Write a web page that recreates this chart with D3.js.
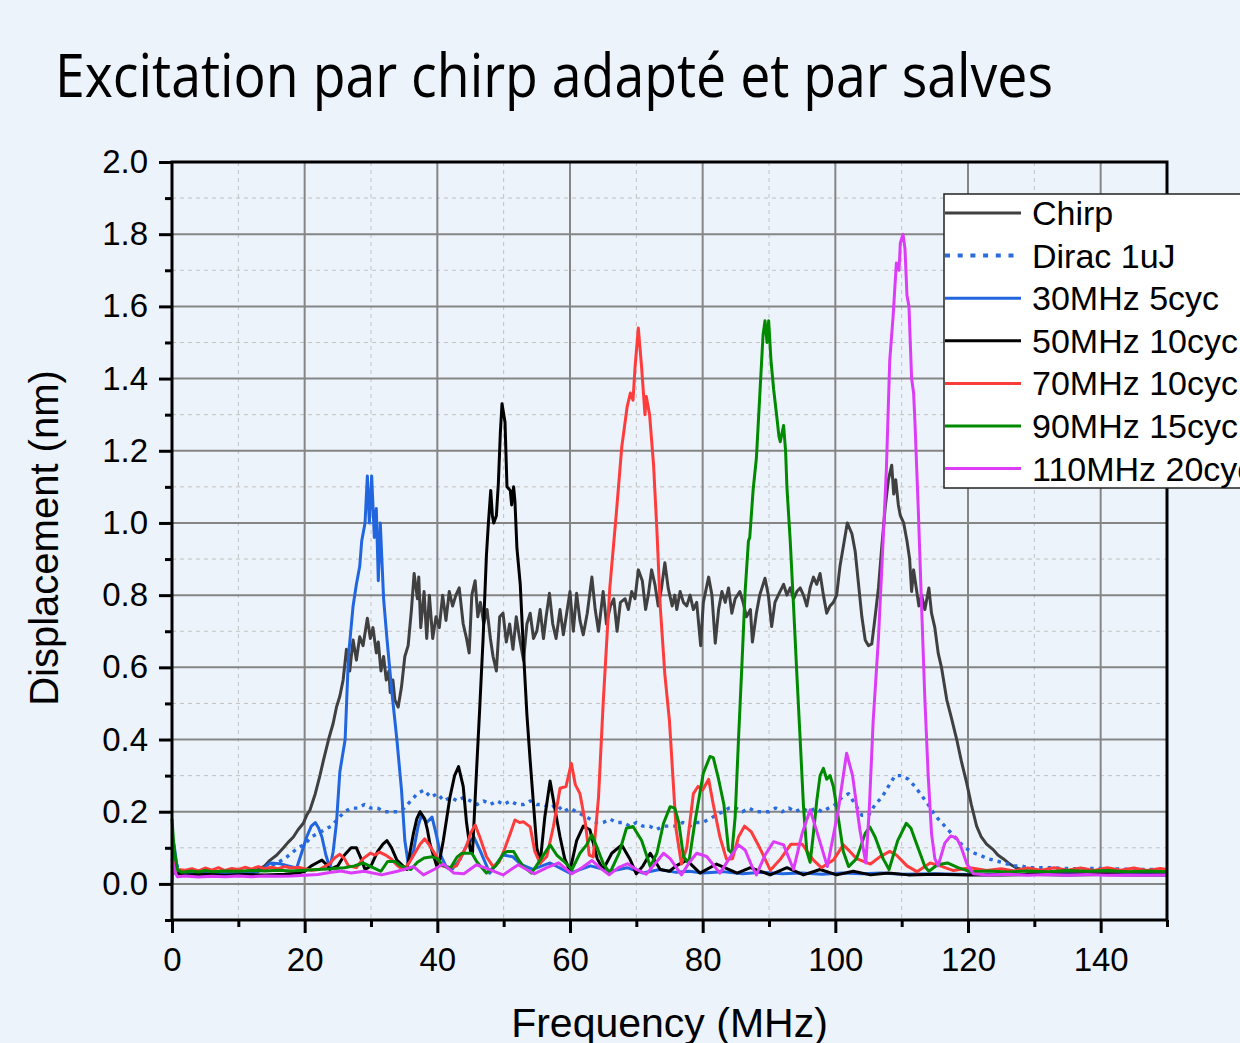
<!DOCTYPE html>
<html>
<head>
<meta charset="utf-8">
<script src="https://cdnjs.cloudflare.com/ajax/libs/d3/7.8.5/d3.min.js"></script>
<style>
  html, body { margin: 0; padding: 0; background: #edf3fb; }
  svg { display: block; }
  text { font-family: "Liberation Sans", Arial, sans-serif; }
</style>
</head>
<body>
<svg id="chart" width="1240" height="1043"></svg>
<script>
// Values: [frequency MHz, displacement nm]
var chirp = [[0,0.05],[0.5,0.03],[3,0.032],[6,0.03],[9,0.033],[12,0.035],[13,0.04],[14,0.05],[14.8,0.066],[15.8,0.08],
  [16.8,0.10],[17.5,0.115],[18.3,0.13],[19,0.15],[19.8,0.168],[20.3,0.19],[20.8,0.205],[21.6,0.25],[22.3,0.30],[22.8,0.34],
  [23.6,0.40],[24.3,0.445],[24.8,0.49],[25.3,0.52],[25.8,0.565],[26.3,0.65],[26.8,0.59],[27.3,0.676],[27.8,0.62],[28.3,0.685],
  [28.8,0.66],[29.45,0.736],[29.9,0.68],[30.3,0.71],[30.8,0.64],[31.1,0.67],[31.5,0.59],[31.9,0.63],[32.3,0.565],[32.7,0.59],
  [32.9,0.53],[33.3,0.565],[33.6,0.51],[34.1,0.49],[34.6,0.546],[35.1,0.63],[35.6,0.66],[36.1,0.76],[36.5,0.86],[37,0.79],
  [37.2,0.85],[37.5,0.71],[38,0.81],[38.4,0.68],[38.8,0.80],[39.3,0.68],[39.8,0.74],[40.3,0.71],[40.8,0.80],[41.3,0.73],
  [41.8,0.81],[42.3,0.77],[42.8,0.80],[43.3,0.82],[43.9,0.72],[44.4,0.68],[44.8,0.64],[45.2,0.80],[45.7,0.84],[46.1,0.74],
  [46.5,0.78],[47,0.72],[47.5,0.76],[48,0.68],[48.4,0.63],[48.9,0.59],[49.4,0.74],[49.9,0.75],[50.4,0.67],[50.9,0.72],
  [51.4,0.65],[51.9,0.74],[52.4,0.68],[53,0.62],[53.5,0.72],[54,0.75],[54.5,0.68],[55,0.70],[55.5,0.76],[56,0.68],
  [56.4,0.74],[56.9,0.805],[57.4,0.72],[57.9,0.68],[58.5,0.76],[59,0.69],[59.5,0.75],[60,0.81],[60.5,0.70],[61,0.805],
  [61.5,0.73],[62,0.69],[62.6,0.75],[63.3,0.85],[63.8,0.76],[64.3,0.70],[65,0.81],[65.5,0.72],[66.1,0.77],[66.6,0.79],
  [67.1,0.70],[67.6,0.78],[68.3,0.79],[68.8,0.76],[69.3,0.81],[69.8,0.79],[70.3,0.87],[70.9,0.84],[71.4,0.76],[71.8,0.80],
  [72.3,0.87],[72.8,0.83],[73.3,0.77],[73.8,0.82],[74.3,0.89],[74.8,0.82],[75.4,0.77],[75.8,0.80],[76.1,0.76],[76.6,0.81],
  [77.1,0.78],[77.6,0.77],[78.1,0.80],[78.6,0.76],[79.1,0.78],[79.7,0.66],[80.1,0.78],[80.9,0.85],[81.4,0.80],[81.9,0.667],
  [82.4,0.76],[82.9,0.81],[83.4,0.78],[83.9,0.82],[84.4,0.75],[84.9,0.79],[85.6,0.81],[86.1,0.78],[86.6,0.74],[87.2,0.76],
  [87.5,0.67],[88.1,0.75],[88.6,0.80],[89.4,0.847],[89.9,0.80],[90.4,0.713],[90.9,0.78],[91.4,0.80],[92.2,0.83],[92.7,0.80],
  [93.2,0.82],[93.7,0.79],[94.2,0.81],[94.7,0.82],[95.2,0.80],[95.7,0.77],[96.2,0.82],[96.7,0.85],[97.2,0.83],[97.7,0.86],
  [98.2,0.80],[98.7,0.75],[99.2,0.77],[99.7,0.78],[100.2,0.80],[100.7,0.88],[101.2,0.934],[101.8,1.0],[102.5,0.97],[103,0.92],
  [103.5,0.83],[104,0.74],[104.5,0.676],[105,0.66],[105.5,0.665],[106,0.74],[106.5,0.82],[107,0.934],[107.5,1.04],[108,1.12],
  [108.5,1.16],[108.8,1.08],[109.1,1.12],[109.5,1.05],[109.8,1.02],[110.3,1.0],[110.8,0.95],[111.2,0.9],[111.5,0.81],[111.8,0.87],
  [112.2,0.82],[112.6,0.77],[113,0.80],[113.5,0.76],[114.1,0.82],[114.5,0.75],[115,0.71],[115.5,0.64],[116,0.6],[116.8,0.51],
  [117.5,0.46],[118.3,0.40],[119,0.34],[119.8,0.28],[120.5,0.22],[121.3,0.16],[122,0.13],[122.8,0.11],[123.8,0.095],[124.5,0.08],
  [125.3,0.07],[126.3,0.055],[127.3,0.044],[129,0.035],[132,0.032],[136,0.03],[140,0.031],[145,0.03],[150,0.03]];

var dirac = [[0,0.10],[1,0.035],[2,0.03],[5,0.031],[8,0.029],[12,0.031],[13,0.035],[14,0.04],[15,0.05],[16,0.06],[17,0.07],
  [18,0.085],[19,0.10],[20,0.11],[21,0.13],[22,0.14],[23,0.15],[24,0.16],[25,0.18],[26,0.20],[27,0.21],[28,0.21],[29,0.22],
  [30,0.21],[31,0.21],[32,0.20],[33,0.20],[34,0.20],[35,0.21],[36,0.23],[37,0.25],[38,0.26],[39,0.24],[40,0.25],[41,0.23],
  [42,0.24],[43,0.23],[44,0.24],[45,0.23],[46,0.22],[47,0.23],[48,0.22],[49,0.23],[50,0.22],[51,0.23],[52,0.22],[53,0.22],
  [54,0.23],[55,0.22],[56,0.22],[57,0.21],[58,0.22],[59,0.20],[60,0.21],[61,0.20],[62,0.19],[63,0.18],[64,0.17],[65,0.17],
  [66,0.18],[67,0.17],[68,0.17],[69,0.16],[70,0.17],[71,0.16],[72,0.16],[73,0.15],[74,0.16],[75,0.16],[76,0.16],[77,0.17],
  [78,0.16],[79,0.17],[80,0.17],[81,0.18],[82,0.19],[83,0.20],[84,0.21],[85,0.21],[86,0.20],[87,0.21],[88,0.20],[89,0.20],
  [90,0.20],[91,0.21],[92,0.20],[93,0.21],[94,0.20],[95,0.21],[96,0.20],[97,0.21],[98,0.20],[99,0.21],[100,0.22],[101,0.24],
  [102,0.25],[103,0.22],[104,0.19],[105,0.19],[106,0.22],[107,0.24],[108,0.27],[109,0.30],[110,0.30],[111,0.29],[112,0.27],
  [113,0.245],[114,0.22],[115,0.19],[116,0.17],[117,0.15],[118,0.13],[119,0.11],[120,0.095],[121,0.085],[122,0.078],[123,0.07],
  [124,0.065],[125,0.06],[126,0.055],[127,0.05],[128,0.05],[129,0.045],[132,0.045],[136,0.042],[140,0.043],[145,0.04],[150,0.04]];

var burst30 = [[0,0.0],[0.3,0.11],[0.8,0.04],[1.5,0.03],[4,0.028],[7,0.03],[10,0.029],[12,0.03],[13,0.035],[14,0.045],[14.8,0.058],
  [16.3,0.056],[17.5,0.05],[18.8,0.044],[19.6,0.09],[20.3,0.13],[21,0.16],[21.6,0.17],[22.1,0.155],[22.6,0.13],[23.2,0.08],
  [23.8,0.044],[24.3,0.09],[24.8,0.17],[25.3,0.31],[26.1,0.4],[26.6,0.63],[27.3,0.77],[27.8,0.83],[28.3,0.88],[28.6,0.95],
  [29.1,1.0],[29.45,1.13],[29.75,1.0],[30.1,1.13],[30.5,0.96],[30.8,1.04],[31.1,0.84],[31.4,1.0],[31.9,0.79],[32.4,0.68],
  [33.1,0.54],[33.9,0.40],[34.6,0.26],[35.1,0.12],[35.6,0.058],[36.4,0.09],[37.1,0.16],[37.6,0.19],[38.4,0.17],[39.2,0.185],
  [39.8,0.14],[40.5,0.08],[41.4,0.045],[42.2,0.04],[43.5,0.07],[44.5,0.11],[45.5,0.13],[46.5,0.09],[47.9,0.03],[49.1,0.06],
  [49.9,0.08],[51.4,0.075],[52.5,0.055],[54.4,0.04],[57,0.058],[60,0.03],[63.1,0.05],[66.1,0.035],[68.6,0.045],[71,0.03],
  [73.5,0.04],[76,0.032],[78,0.035],[80,0.03],[83,0.034],[86,0.028],[89,0.032],[92,0.028],[95,0.03],[98,0.027],[101,0.03],
  [104,0.028],[107,0.03],[110,0.027],[115,0.028],[120,0.026],[125,0.027],[130,0.026],[135,0.027],[140,0.026],[145,0.027],[150,0.026]];

var burst50 = [[0,0.05],[0.5,0.03],[2,0.025],[5,0.027],[8,0.024],[11,0.026],[14,0.025],[17,0.027],[19,0.03],[20,0.035],[21,0.05],
  [22,0.06],[22.6,0.066],[23.2,0.055],[23.8,0.04],[25,0.05],[26,0.08],[27,0.1],[27.8,0.1],[28.5,0.07],[29.1,0.04],[30,0.05],
  [31,0.09],[31.8,0.11],[32.4,0.12],[33.1,0.1],[33.9,0.066],[35.4,0.04],[36,0.1],[36.4,0.14],[36.9,0.18],[37.4,0.2],[38.1,0.18],
  [38.5,0.15],[38.9,0.11],[39.9,0.05],[40.4,0.07],[40.9,0.12],[41.4,0.18],[41.9,0.24],[42.6,0.3],[43.2,0.325],[43.9,0.27],
  [44.4,0.17],[45,0.09],[45.3,0.085],[45.9,0.31],[46.4,0.49],[46.9,0.68],[47.4,0.91],[47.7,1.0],[48.05,1.09],[48.3,1.02],
  [48.5,1.0],[48.9,1.02],[49.2,1.11],[49.5,1.25],[49.75,1.33],[50.2,1.28],[50.5,1.1],[51,1.09],[51.2,1.05],[51.5,1.1],
  [51.7,1.06],[52,0.93],[52.5,0.83],[53,0.64],[53.5,0.47],[54,0.34],[54.5,0.22],[55,0.1],[55.5,0.058],[56.2,0.185],[57,0.285],
  [57.8,0.2],[58.5,0.13],[59.2,0.07],[60,0.036],[61,0.12],[62,0.16],[63,0.15],[64.1,0.07],[65,0.04],[66.3,0.085],[67.8,0.108],
  [69,0.07],[70,0.028],[71,0.05],[72.1,0.085],[73.6,0.04],[75,0.035],[76,0.05],[77.6,0.066],[79.6,0.03],[82.1,0.055],[85.2,0.03],
  [87.2,0.045],[90.2,0.025],[92.7,0.045],[95.2,0.025],[97.7,0.04],[100.2,0.025],[102.7,0.035],[105.3,0.025],[108,0.03],[111,0.025],
  [115,0.027],[120,0.025],[125,0.025],[130,0.026],[135,0.025],[140,0.026],[145,0.025],[150,0.025]];

var burst70 = [[0,0.03],[0.3,0.06],[0.8,0.04],[2,0.038],[3,0.042],[4,0.036],[5,0.044],[6,0.038],[7,0.045],[8,0.037],[9,0.043],
  [10,0.04],[11,0.046],[12,0.041],[13,0.048],[14,0.042],[15,0.046],[16,0.042],[17,0.048],[18,0.044],[19,0.046],[20,0.042],
  [21,0.038],[22.2,0.04],[23.7,0.055],[24.5,0.072],[25.3,0.082],[26,0.07],[26.6,0.05],[27.8,0.045],[28.8,0.07],[29.9,0.085],
  [30.6,0.08],[31.3,0.088],[32.2,0.08],[33,0.07],[34,0.05],[34.9,0.039],[35.8,0.06],[36.6,0.085],[37.4,0.11],[38.1,0.125],
  [38.9,0.105],[39.9,0.075],[40.7,0.05],[42,0.045],[42.9,0.05],[43.7,0.08],[44.4,0.105],[45,0.14],[45.7,0.163],[46.4,0.13],
  [47.4,0.076],[48.4,0.048],[49.3,0.06],[50,0.09],[51,0.14],[51.7,0.177],[52.4,0.17],[53,0.172],[54,0.158],[54.7,0.09],
  [55.5,0.057],[56.5,0.076],[57.5,0.159],[58.5,0.265],[59.4,0.27],[60.2,0.334],[60.8,0.275],[61.5,0.25],[62.3,0.17],[62.9,0.08],
  [63.5,0.075],[64.3,0.24],[65,0.5],[66,0.82],[67,1.03],[67.8,1.21],[68.6,1.32],[69.1,1.36],[69.5,1.34],[69.8,1.43],[70.3,1.54],
  [70.8,1.43],[71.3,1.3],[71.5,1.35],[72,1.3],[72.6,1.16],[73.1,0.98],[73.6,0.77],[74.3,0.58],[75,0.45],[75.5,0.3],[76,0.15],
  [76.8,0.055],[77.6,0.1],[78.6,0.25],[79.3,0.27],[80,0.26],[80.9,0.29],[81.6,0.22],[82.6,0.13],[83.6,0.068],[84.5,0.07],
  [85.4,0.13],[86.3,0.16],[87.3,0.145],[88.6,0.1],[90.2,0.038],[91.7,0.068],[93.3,0.11],[95,0.11],[96.7,0.066],[97.9,0.045],
  [99.7,0.066],[101.2,0.108],[102.2,0.09],[103.2,0.07],[105.3,0.055],[106.7,0.075],[108.2,0.09],[109.2,0.08],[110.8,0.05],
  [112.3,0.034],[114.3,0.058],[115.8,0.05],[117.8,0.037],[120.3,0.045],[122.8,0.037],[125,0.042],[127,0.036],[129,0.044],
  [131,0.038],[133,0.045],[135,0.038],[137,0.044],[139,0.037],[141,0.045],[143,0.038],[145,0.044],[147,0.037],[149,0.043],[150,0.04]];

var burst90 = [[0,0.18],[0.3,0.1],[0.8,0.04],[1.5,0.032],[3,0.036],[4,0.033],[5,0.037],[6,0.034],[8,0.036],[10,0.035],[12,0.037],
  [14,0.036],[16,0.038],[18,0.036],[20,0.038],[22,0.04],[24,0.042],[26,0.045],[27.5,0.05],[28.8,0.058],[30,0.048],[31.5,0.035],
  [32.5,0.062],[33.6,0.062],[34.5,0.05],[36,0.04],[37,0.06],[38,0.072],[39.2,0.075],[40,0.07],[40.9,0.05],[42,0.045],[43,0.075],
  [43.7,0.085],[44.5,0.085],[45.2,0.085],[46,0.06],[47.4,0.03],[48.8,0.05],[50,0.085],[50.6,0.09],[51.5,0.09],[52.3,0.065],
  [53,0.048],[54.2,0.03],[55.5,0.066],[57,0.108],[58,0.08],[59,0.064],[60.3,0.04],[61.5,0.085],[62.5,0.108],[63.3,0.136],
  [64.1,0.1],[65,0.057],[66,0.03],[67.4,0.085],[68.5,0.154],[69.5,0.159],[70.8,0.12],[72.1,0.048],[73.1,0.085],[74.1,0.168],
  [75.1,0.214],[75.8,0.21],[76.4,0.17],[77.1,0.076],[77.9,0.057],[78.8,0.168],[80.1,0.307],[81.1,0.353],[81.6,0.35],[82.4,0.29],
  [83.2,0.22],[83.9,0.094],[84.4,0.085],[84.9,0.186],[85.4,0.4],[85.9,0.6],[86.4,0.81],[86.9,0.95],[87.1,0.96],[87.6,1.09],
  [88.1,1.18],[88.6,1.35],[89.1,1.52],[89.4,1.56],[89.7,1.5],[89.95,1.56],[90.3,1.45],[90.7,1.37],[91.2,1.29],[91.5,1.24],
  [91.7,1.225],[92.2,1.27],[92.5,1.2],[92.7,1.1],[93.2,0.95],[93.7,0.77],[94.2,0.58],[94.7,0.4],[95.2,0.214],[95.7,0.09],
  [96.2,0.06],[96.7,0.14],[97.2,0.23],[97.7,0.3],[98.2,0.32],[98.7,0.29],[99.2,0.3],[99.7,0.27],[100.2,0.214],[101.2,0.09],
  [102,0.048],[103.2,0.07],[104.5,0.14],[105.2,0.158],[106,0.13],[107.2,0.07],[108.1,0.04],[109.4,0.12],[110.7,0.168],
  [111.4,0.154],[112.2,0.113],[113.5,0.048],[114.1,0.035],[115.4,0.053],[116.9,0.058],[118.5,0.045],[120.3,0.034],[123,0.036],
  [126,0.033],[129,0.036],[132,0.034],[135,0.037],[138,0.035],[141,0.037],[144,0.034],[147,0.036],[150,0.034]];

var burst110 = [[0,0.07],[0.4,0.035],[0.8,0.02],[2,0.022],[4,0.019],[6,0.021],[8,0.02],[10,0.022],[12,0.02],[14,0.022],[16,0.021],
  [18,0.022],[20,0.024],[22,0.026],[24,0.032],[25.5,0.036],[27,0.03],[29,0.035],[31.6,0.025],[34,0.035],[36.4,0.048],[37.9,0.025],
  [39.5,0.04],[40.9,0.055],[42.5,0.03],[44,0.028],[45.9,0.053],[47.8,0.04],[49.9,0.025],[52.2,0.053],[54.6,0.028],[56.5,0.045],
  [58.3,0.058],[60.3,0.028],[61.8,0.045],[63.3,0.065],[64.5,0.045],[65.9,0.025],[67.3,0.045],[68.7,0.056],[70,0.04],[71.5,0.027],
  [73,0.06],[74.1,0.085],[75.1,0.07],[76.8,0.025],[78,0.06],[79.1,0.085],[80.6,0.076],[82.6,0.03],[84,0.07],[85.4,0.108],
  [86.4,0.094],[87.4,0.05],[88.1,0.025],[89.4,0.08],[90.7,0.117],[92.2,0.108],[93.7,0.04],[95,0.14],[96.2,0.205],[97.3,0.14],
  [98.8,0.048],[100.4,0.2],[101.7,0.362],[102.6,0.3],[103.7,0.15],[104.6,0.058],[105.1,0.2],[105.7,0.45],[106.5,0.68],
  [107.2,0.95],[107.7,1.15],[108.2,1.45],[108.7,1.57],[109.2,1.72],[109.6,1.7],[109.8,1.776],[110.2,1.80],[110.5,1.76],
  [110.8,1.63],[111.1,1.6],[111.5,1.4],[111.8,1.36],[112,1.28],[112.5,1.04],[113,0.77],[113.5,0.51],[114,0.3],[114.5,0.14],
  [115,0.07],[115.5,0.05],[116.5,0.113],[117.4,0.133],[118.3,0.127],[118.9,0.105],[119.8,0.057],[120.8,0.028],[123,0.025],
  [126,0.027],[129,0.024],[132,0.026],[135,0.024],[138,0.026],[141,0.024],[144,0.025],[147,0.024],[150,0.025]];

var seriesNames = ["Chirp", "Dirac 1uJ", "30MHz 5cyc", "50MHz 10cyc", "70MHz 10cyc", "90MHz 15cyc", "110MHz 20cyc"];
var seriesData = [chirp, dirac, burst30, burst50, burst70, burst90, burst110];
var seriesColors = ["#404040", "#2a6be0", "#2166de", "#000000", "#ff3c3c", "#008a00", "#dc3cf8"];

var xMajor = [0, 20, 40, 60, 80, 100, 120, 140];
var xMinor = [10, 30, 50, 70, 90, 110, 130, 150];
var yMajor = [0.0, 0.2, 0.4, 0.6, 0.8, 1.0, 1.2, 1.4, 1.6, 1.8, 2.0];
var yMinor = [-0.1, 0.1, 0.3, 0.5, 0.7, 0.9, 1.1, 1.3, 1.5, 1.7, 1.9];

function make_chart() {
  var svg = d3.select("#chart");
  var pLeft = 172, pRight = 1167, pTop = 162, pBottom = 920;

  var x = d3.scaleLinear().domain([0, 150]).range([pLeft, pRight]);
  var y = d3.scaleLinear().domain([-0.1, 2.0]).range([pBottom, pTop]);

  // background
  svg.append("rect").attr("width", 1240).attr("height", 1043).attr("fill", "#edf3fb");

  // title
  svg.append("text")
    .attr("x", 55).attr("y", 97)
    .attr("textLength", 998).attr("lengthAdjust", "spacingAndGlyphs")
    .style("font-family", "'Open Sans', 'Noto Sans', sans-serif")
    .style("font-size", "60px")
    .attr("fill", "#000")
    .text("Excitation par chirp adapté et par salves");

  // grid lines, minor dashed then major solid
  var grid = svg.append("g");
  grid.selectAll(".vminor").data(xMinor.filter(function (d) { return d < 150; }))
    .enter().append("line")
    .attr("x1", function (d) { return x(d); }).attr("x2", function (d) { return x(d); })
    .attr("y1", pTop).attr("y2", pBottom)
    .attr("stroke", "#c2c2c2").attr("stroke-width", 1).attr("stroke-dasharray", "4,4");
  grid.selectAll(".hminor").data(yMinor.filter(function (d) { return d > -0.1; }))
    .enter().append("line")
    .attr("y1", function (d) { return y(d); }).attr("y2", function (d) { return y(d); })
    .attr("x1", pLeft).attr("x2", pRight)
    .attr("stroke", "#c2c2c2").attr("stroke-width", 1).attr("stroke-dasharray", "4,4");
  grid.selectAll(".vmajor").data(xMajor.filter(function (d) { return d > 0; }))
    .enter().append("line")
    .attr("x1", function (d) { return x(d); }).attr("x2", function (d) { return x(d); })
    .attr("y1", pTop).attr("y2", pBottom)
    .attr("stroke", "#858585").attr("stroke-width", 2);
  grid.selectAll(".hmajor").data(yMajor.filter(function (d) { return d < 2.0; }))
    .enter().append("line")
    .attr("y1", function (d) { return y(d); }).attr("y2", function (d) { return y(d); })
    .attr("x1", pLeft).attr("x2", pRight)
    .attr("stroke", "#858585").attr("stroke-width", 2);

  // curves
  var line = d3.line()
    .x(function (d) { return x(d[0]); })
    .y(function (d) { return y(d[1]); });

  var curves = svg.append("g");
  seriesData.forEach(function (data, i) {
    curves.append("path")
      .datum(data)
      .attr("d", line)
      .attr("fill", "none")
      .attr("stroke", seriesColors[i])
      .attr("stroke-width", i == 1 ? 3.4 : 3)
      .attr("stroke-linejoin", "round")
      .attr("stroke-dasharray", i == 1 ? "3.5,5" : null);
  });

  // axes
  svg.append("g").attr("transform", "translate(" + pLeft + ",0)")
    .call(d3.axisLeft(y).tickValues(yMajor).tickFormat(d3.format(".1f")).tickSize(13).tickPadding(11));
  svg.append("g").attr("transform", "translate(" + pLeft + ",0)")
    .call(d3.axisLeft(y).tickValues(yMinor).tickFormat("").tickSize(7));
  svg.append("g").attr("transform", "translate(0," + pBottom + ")")
    .call(d3.axisBottom(x).tickValues(xMajor).tickFormat(d3.format("d")).tickSize(13).tickPadding(15));
  svg.append("g").attr("transform", "translate(0," + pBottom + ")")
    .call(d3.axisBottom(x).tickValues(xMinor).tickFormat("").tickSize(7));

  svg.selectAll(".domain").remove();
  svg.selectAll(".tick line").attr("stroke", "#000").attr("stroke-width", 3);
  svg.selectAll(".tick text").style("font-size", "33px").attr("fill", "#000");

  // frame
  svg.append("rect")
    .attr("x", pLeft).attr("y", pTop)
    .attr("width", pRight - pLeft).attr("height", pBottom - pTop)
    .attr("fill", "none").attr("stroke", "#000").attr("stroke-width", 3);

  // axis titles
  svg.append("text")
    .attr("transform", "translate(58,538) rotate(-90)")
    .attr("text-anchor", "middle")
    .style("font-size", "40px")
    .text("Displacement (nm)");
  svg.append("text")
    .attr("x", (pLeft + pRight) / 2).attr("y", 1037)
    .attr("text-anchor", "middle")
    .style("font-size", "41px")
    .text("Frequency (MHz)");

  // legend
  var legend = svg.append("g").attr("transform", "translate(944,194)");
  legend.append("rect")
    .attr("width", 320).attr("height", 294)
    .attr("fill", "#fff").attr("stroke", "#222").attr("stroke-width", 1.5);
  seriesNames.forEach(function (name, i) {
    var ly = 19 + i * 42.6;
    legend.append("line")
      .attr("x1", 1).attr("x2", 77).attr("y1", ly).attr("y2", ly)
      .attr("stroke", seriesColors[i]).attr("stroke-width", i == 1 ? 4 : 3)
      .attr("stroke-dasharray", i == 1 ? "5,7.7" : null);
    legend.append("text")
      .attr("x", 88).attr("y", ly + 12)
      .style("font-size", "34px")
      .text(name);
  });
}

make_chart();
</script>
</body>
</html>
